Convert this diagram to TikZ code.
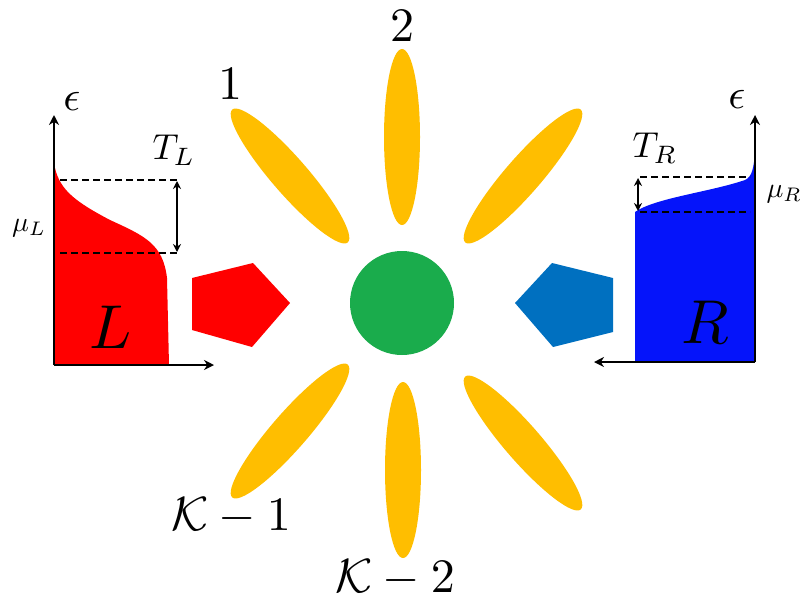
\documentclass[tikz,border=0pt]{standalone}
\usetikzlibrary{shapes.geometric,arrows.meta,positioning}
\definecolor{petalyellow}{RGB}{255,190,0}
\definecolor{dotgreen}{RGB}{26,172,76}
\definecolor{leadred}{RGB}{255,0,0}
\definecolor{leadblue}{RGB}{0,112,192}
\definecolor{bathred}{RGB}{255,0,0}
\definecolor{bathblue}{RGB}{5,20,250}

\begin{document}
\begin{tikzpicture}[x=1pt,y=-1pt,
  petal/.style={ellipse, fill=petalyellow, minimum width=176pt, minimum height=36pt, inner sep=0pt},
  txt/.style={inner sep=0pt, scale=#1, transform shape},
  lbl/.style={txt=4.8},
  axis/.style={line width=1.8pt, -{Stealth[length=10pt,width=10pt]}},
  level/.style={line width=1.8pt, dash pattern=on 7pt off 4pt},
  span/.style={line width=1.8pt, {Stealth[length=8pt,width=8pt]}-{Stealth[length=8pt,width=8pt]}}
]
\useasboundingbox (0,0) rectangle (805,603);

% dot and petals
\node[circle, fill=dotgreen, minimum size=104pt, inner sep=0pt] (dot) at (402,303) {};
\node[petal, rotate=131] (p1) at (290,176) {};
\node[petal, rotate=90] (p2) at (402,137) {};
\node[petal, rotate=49] (p3) at (523,176) {};
\node[petal, rotate=131] (p4) at (523,443) {};
\node[petal, rotate=90] (pk2) at (403,470) {};
\node[petal, rotate=49] (pk1) at (290,431) {};

\node[lbl] (n1) at (230,84) {$1$};
\node[lbl] (n2) at (402,26) {$2$};
\node[lbl] (nk1) at (231,516) {$\mathcal{K}-1$};
\node[lbl] (nk2) at (395,578) {$\mathcal{K}-2$};

% leads
\fill[leadred] (192,278) -- (253,263) -- (290,303) -- (252,347) -- (192,330) -- cycle;
\fill[leadblue] (515,303) -- (552,263) -- (613,278) -- (613,332) -- (553,347) -- cycle;

% left bath
\fill[bathred] (54,365) -- (54,163) .. controls (58,188) and (72,200) .. (110,220)
  .. controls (145,236) and (163,244) .. (167,278) -- (169,365) -- cycle;
\coordinate (lorig) at (54,365);
\coordinate (ltop) at (54,115);
\coordinate (lright) at (214,365);
\draw[axis] (lorig) -- (ltop);
\draw[axis] (lorig) -- (lright);
\draw[level] (60,180) -- (178,180);
\draw[level] (60,253) -- (178,253);
\draw[span] (177,181) -- (177,252);
\node[txt=4.2] (epsl) at (72,101) {$\epsilon$};
\node[txt=3.6] (tl) at (174,150) {$T_L$};
\node[txt=2.8] (mul) at (29,228) {$\mu_L$};
\node[txt=6.2] (bl) at (111,327) {$L$};

% right bath
\fill[bathblue] (635,362) -- (635,212) .. controls (655,198) and (710,192) .. (745,180)
  .. controls (752,177) and (754,168) .. (755,150) -- (755,362) -- cycle;
\coordinate (rorig) at (755,362);
\coordinate (rtop) at (755,115);
\coordinate (rleft) at (594,362);
\draw[axis] (rorig) -- (rtop);
\draw[axis] (rorig) -- (rleft);
\draw[level] (640,177) -- (750,177);
\draw[level] (640,212) -- (750,212);
\draw[span] (638,178) -- (638,211);
\node[txt=4.2] (epsr) at (737,99) {$\epsilon$};
\node[txt=3.6] (tr) at (655,148) {$T_R$};
\node[txt=2.8, anchor=west] (mur) at (766,194) {$\mu_R$};
\node[txt=6.2] (br) at (705,322) {$R$};
\end{tikzpicture}
\end{document}
